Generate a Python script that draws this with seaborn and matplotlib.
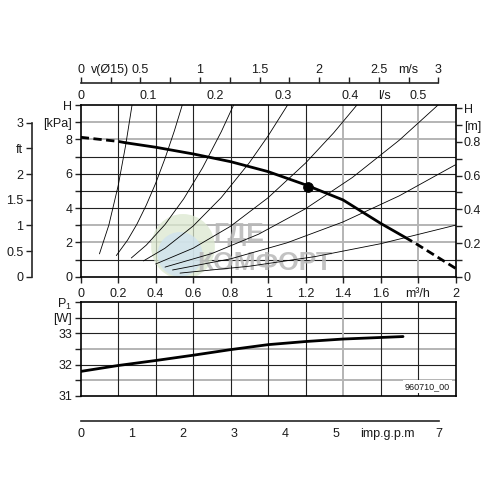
import numpy as np
import pandas as pd
import matplotlib
matplotlib.use("Agg")
import matplotlib.pyplot as plt
from matplotlib.patches import Ellipse
import seaborn as sns

sns.set_style("white")
plt.rcParams['font.family'] = ['Liberation Sans', 'DejaVu Sans']
plt.rcParams['font.size'] = 9

# ---------------- data ----------------
# pump curve H [kPa] vs Q [m3/h]
pump_q = [0.0, 0.1, 0.2, 0.24, 0.4, 0.6, 0.8, 1.0, 1.2, 1.4, 1.6, 1.73, 1.8, 2.0]
pump_h = [8.12, 8.0, 7.88, 7.8, 7.54, 7.15, 6.7, 6.12, 5.35, 4.47, 3.11, 2.3, 1.85, 0.49]
pump_seg = ["d", "d", "d", "s", "s", "s", "s", "s", "s", "s", "s", "s", "d", "d"]

# operating point
op_q = [1.214]
op_h = [5.24]

# system curves
sys_q = [
    [0.10, 0.15, 0.20, 0.24, 0.274],
    [0.19, 0.25, 0.30, 0.35, 0.40, 0.45, 0.50, 0.542],
    [0.27, 0.35, 0.45, 0.55, 0.65, 0.75, 0.816],
    [0.335, 0.45, 0.60, 0.75, 0.90, 1.00, 1.104],
    [0.40, 0.60, 0.80, 1.00, 1.20, 1.35, 1.474],
    [0.45, 0.70, 0.95, 1.20, 1.45, 1.70, 1.907],
    [0.49, 0.80, 1.10, 1.40, 1.70, 2.00],
    [0.53, 0.90, 1.25, 1.60, 2.00],
]
sys_h = [
    [1.33, 3.0, 5.3, 7.66, 10.0],
    [1.23, 2.13, 3.06, 4.17, 5.44, 6.89, 8.5, 10.0],
    [1.09, 1.84, 3.04, 4.54, 6.34, 8.44, 10.0],
    [0.92, 1.66, 2.95, 4.61, 6.64, 8.2, 10.0],
    [0.74, 1.66, 2.94, 4.6, 6.62, 8.38, 10.0],
    [0.56, 1.35, 2.48, 3.96, 5.78, 7.95, 10.0],
    [0.39, 1.04, 1.97, 3.19, 4.71, 6.52],
    [0.21, 0.61, 1.17, 1.92, 3.0],
]

# power curve P1 [W]
pow_q = [0.0, 0.2, 0.4, 0.6, 0.8, 1.0, 1.2, 1.4, 1.6, 1.72]
pow_p = [31.78, 31.97, 32.13, 32.3, 32.48, 32.64, 32.74, 32.82, 32.87, 32.9]

# tick labels
q_ticks = [0, 0.2, 0.4, 0.6, 0.8, 1.0, 1.2, 1.4, 1.6, 1.8, 2.0]
q_labels = ["0", "0.2", "0.4", "0.6", "0.8", "1", "1.2", "1.4", "1.6", "m³/h", "2"]
kpa_ticks = [0, 1, 2, 3, 4, 5, 6, 7, 8, 9, 10]
kpa_labels = ["0", "", "2", "", "4", "", "6", "", "8", "[kPa]", "H"]
m_ticks = [0, 0.1, 0.2, 0.3, 0.4, 0.5, 0.6, 0.7, 0.8, 0.9, 1.0]
m_labels = ["0", "", "0.2", "", "0.4", "", "0.6", "", "0.8", "[m]", "H"]
ls_ticks = [0, 0.1, 0.2, 0.3, 0.4, 0.45, 0.5]
ls_labels = ["0", "0.1", "0.2", "0.3", "0.4", "l/s", "0.5"]
v_ticks = [0, 0.25, 0.5, 0.75, 1.0, 1.25, 1.5, 1.75, 2.0, 2.25, 2.5, 2.75, 3.0]
v_labels = ["0", "v(Ø15)", "0.5", "", "1", "", "1.5", "", "2", "", "2.5", "m/s", "3"]
ft_ticks = [0, 0.5, 1, 1.5, 2, 2.5, 3]
ft_labels = ["0", "0.5", "1", "1.5", "2", "ft", "3"]
p_ticks = [31, 31.5, 32, 32.5, 33, 33.5, 34]
p_labels = ["31", "", "32", "", "33", "[W]", "P$_\\mathregular{1}$"]
gpm_ticks = [0, 1, 2, 3, 4, 5, 6, 7]
gpm_labels = ["0", "1", "2", "3", "4", "5", "imp.g.p.m", "7"]

h_gray = [2, 3, 8, 9]
q_gray = [1.4, 1.8]
p_gray = [31.5, 32.5]

# ---------------- figure ----------------
W = 496.0
fig = plt.figure(figsize=(4.96, 4.96), dpi=100)
fig.patch.set_facecolor("white")

def fx(px):
    return px / W

def fy(py):
    return (W - py) / W

x0, x1 = 80.7, 455.5
main_top, main_bot = 105.0, 276.7
low_top, low_bot = 302.3, 395.7

TXT = "#1a1a1a"
DARK = "#222222"
GRAY = "#b4b4b4"

ax = fig.add_axes([fx(x0), fy(main_bot), fx(x1 - x0), (main_bot - main_top) / W])
ax.set_xlim(0, 2)
ax.set_ylim(0, 10)

# grid
for h in kpa_ticks[1:-1]:
    if h in h_gray:
        ax.axhline(h, color=GRAY, lw=1.4, zorder=1)
    else:
        ax.axhline(h, color=DARK, lw=0.8, zorder=1)
for q in q_ticks[1:-1]:
    if q in q_gray:
        ax.axvline(q, color=GRAY, lw=1.4, zorder=1)
    else:
        ax.axvline(q, color=DARK, lw=0.8, zorder=1)

# watermark (globe + text)
ax.add_patch(Ellipse((0.546, 1.75), 0.34, 3.8, facecolor="#dbe8cf",
                     edgecolor="none", alpha=0.75, zorder=1.4))
ax.add_patch(Ellipse((0.53, 1.3), 0.24, 2.6, facecolor="#cfe2ee",
                     edgecolor="none", alpha=0.8, zorder=1.45))
ax.text(0.705, 2.5, "ГДЕ", fontsize=19, fontweight="bold", color="#b8b8b8",
        alpha=0.85, ha="left", va="center", zorder=1.5)
ax.text(0.62, 0.78, "КОМФОРТ", fontsize=19, fontweight="bold", color="#b8b8b8",
        alpha=0.85, ha="left", va="center", zorder=1.5)

# system curves
for qs, hs in zip(sys_q, sys_h):
    sns.lineplot(x=qs, y=hs, ax=ax, color="black", lw=0.6, sort=False,
                 estimator=None, zorder=3)

# pump curve
df = pd.DataFrame({"q": pump_q, "h": pump_h, "seg": pump_seg})
i_s = [i for i, s in enumerate(pump_seg) if s == "s"]
first, last = i_s[0], i_s[-1]
solid = df.iloc[first:last + 1]
dash1 = df.iloc[:first + 1]
dash2 = df.iloc[last:]
sns.lineplot(data=solid, x="q", y="h", ax=ax, color="black", lw=2.0,
             estimator=None, sort=False, zorder=4)
for d in (dash1, dash2):
    sns.lineplot(data=d, x="q", y="h", ax=ax, color="black", lw=2.0,
                 estimator=None, sort=False, zorder=4, linestyle=(0, (3, 1.6)))
sns.scatterplot(x=op_q, y=op_h, ax=ax, color="black", s=50, zorder=5,
                edgecolor="black")

ax.set_xlabel("")
ax.set_ylabel("")
ax.set_xticks(q_ticks)
ax.set_xticklabels(q_labels)
ax.set_yticks(kpa_ticks)
ax.set_yticklabels(kpa_labels)
ax.tick_params(axis="both", direction="out", length=4, width=1, colors=DARK,
               labelcolor=TXT, labelsize=9, pad=2, bottom=True, left=True)
ax.tick_params(axis="x", pad=4)
for sp in ax.spines.values():
    sp.set_color("black")
    sp.set_linewidth(1.2)
    sp.set_visible(True)

# right axis in m
axr = ax.secondary_yaxis("right", functions=(lambda h: h / 9.81, lambda m: m * 9.81))
axr.set_yticks(m_ticks)
axr.set_yticklabels(m_labels)
axr.tick_params(direction="out", length=4, width=1, colors=DARK, labelcolor=TXT,
                labelsize=9, pad=2)
axr.spines["right"].set_visible(False)

# top axis in l/s
axt = ax.secondary_xaxis("top", functions=(lambda q: q / 3.6, lambda l: l * 3.6))
axt.set_xticks(ls_ticks)
axt.set_xticklabels(ls_labels)
axt.tick_params(length=0, labelcolor=TXT, labelsize=9, pad=2)
axt.spines["top"].set_visible(False)

# velocity axis
v_py = 83.3
axv = fig.add_axes([fx(x0), fy(v_py), fx(x1 - x0), 0.0001])
axv.set_xlim(0, 2 / 0.6362)
axv.set_ylim(0, 1)
axv.patch.set_alpha(0)
for k in ("left", "right", "bottom"):
    axv.spines[k].set_visible(False)
axv.spines["top"].set_bounds(0, 3)
axv.spines["top"].set_linewidth(1.2)
axv.xaxis.tick_top()
axv.set_xticks(v_ticks)
axv.set_xticklabels(v_labels)
axv.tick_params(axis="x", direction="out", length=4, width=1, colors=DARK,
                labelcolor=TXT, labelsize=9, pad=1)
axv.set_yticks([])

# ft axis
ft_px = 31.7
axf = fig.add_axes([fx(ft_px), fy(main_bot), 0.0001, (main_bot - main_top) / W])
axf.set_ylim(0, 10 / 2.989)
axf.set_xlim(0, 1)
axf.patch.set_alpha(0)
for k in ("top", "right", "bottom"):
    axf.spines[k].set_visible(False)
axf.spines["left"].set_bounds(0, 3)
axf.spines["left"].set_linewidth(1.2)
axf.set_yticks(ft_ticks)
axf.set_yticklabels(ft_labels)
axf.tick_params(axis="y", direction="out", length=4, width=1, colors=DARK,
                labelcolor=TXT, labelsize=9, pad=2, left=True)
axf.set_xticks([])

# lower power axes
axp = fig.add_axes([fx(x0), fy(low_bot), fx(x1 - x0), (low_bot - low_top) / W])
axp.set_xlim(0, 2)
axp.set_ylim(31, 34)
for p in p_ticks[1:-1]:
    if p in p_gray:
        axp.axhline(p, color=GRAY, lw=1.4, zorder=1)
    else:
        axp.axhline(p, color=DARK, lw=0.8, zorder=1)
for q in q_ticks[1:-1]:
    if q == 1.4:
        axp.axvline(q, color=GRAY, lw=1.4, zorder=1)
    else:
        axp.axvline(q, color=DARK, lw=0.8, zorder=1)
sns.lineplot(x=pow_q, y=pow_p, ax=axp, color="black", lw=2.0, estimator=None,
             sort=False, zorder=4)
axp.set_xlabel("")
axp.set_ylabel("")
axp.set_yticks(p_ticks)
axp.set_yticklabels(p_labels)
axp.set_xticks([])
axp.tick_params(axis="y", direction="out", length=4, width=1, colors=DARK,
                labelcolor=TXT, labelsize=9, pad=2, left=True)
for sp in axp.spines.values():
    sp.set_color("black")
    sp.set_linewidth(1.2)
    sp.set_visible(True)
axp.text(0.985, 0.05, "960710_00", transform=axp.transAxes, fontsize=6.5,
         ha="right", va="bottom", color=TXT, zorder=6,
         bbox=dict(facecolor="white", edgecolor="none", pad=1.5))

# gpm axis
g_py = 421.0
axg = fig.add_axes([fx(x0), fy(g_py), fx(x1 - x0), 0.0001])
axg.set_xlim(0, 2 / 0.2728)
axg.set_ylim(0, 1)
axg.patch.set_alpha(0)
for k in ("left", "right", "top"):
    axg.spines[k].set_visible(False)
axg.spines["bottom"].set_bounds(0, 7)
axg.spines["bottom"].set_linewidth(1.2)
axg.set_xticks(gpm_ticks)
axg.set_xticklabels(gpm_labels)
axg.tick_params(axis="x", direction="in", length=4, width=1, colors=DARK,
                labelcolor=TXT, labelsize=9, pad=5)
axg.set_yticks([])

fig.savefig("out.png", dpi=100, facecolor="white")
